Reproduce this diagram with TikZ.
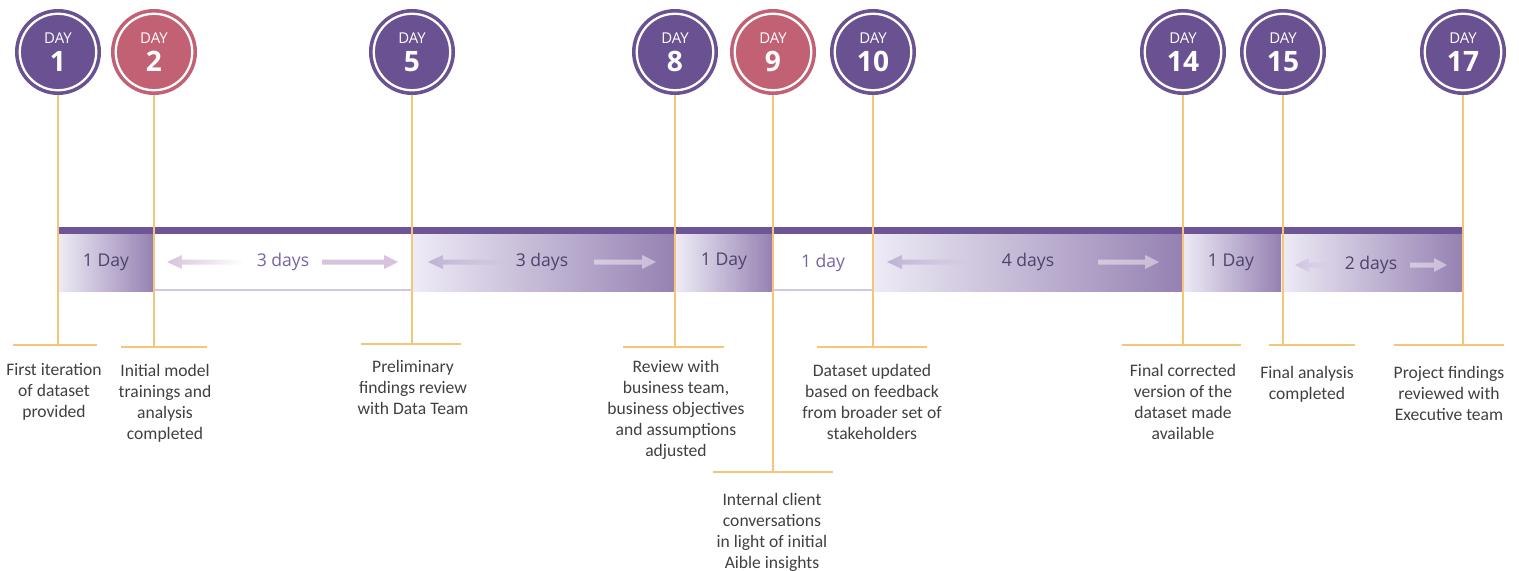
\documentclass[tikz,border=0pt]{standalone}
\usepackage{fontspec}
\setmainfont{Carlito}
\newfontfamily\opensans{Open Sans}
\usetikzlibrary{positioning,calc,fadings}

\definecolor{daypurple}{HTML}{6A5192}
\definecolor{daypink}{HTML}{C26174}
\definecolor{strippurple}{HTML}{6D5596}
\definecolor{bandlight}{HTML}{EEEBF6}
\definecolor{banddark}{HTML}{9581B2}
\definecolor{bandedge}{HTML}{D2C8E2}
\definecolor{leadorange}{HTML}{F5C679}
\definecolor{descgray}{HTML}{404040}
\definecolor{durdark}{HTML}{4F426B}
\definecolor{durpurple}{HTML}{7B62A3}
\definecolor{arrowpink}{HTML}{D8C3DF}
\definecolor{arrowgrey}{HTML}{BDB1D3}
\definecolor{arrowpale}{HTML}{CFC3E0}

\begin{document}
\begin{tikzpicture}[x=0.02cm, y=-0.02cm,
    every node/.style={inner sep=0pt},
    daycirc/.style={circle, fill=#1, minimum size=1.72cm, text=white, align=center,
      path picture={\draw[white, line width=1.3pt] (path picture bounding box.center) circle (0.765cm);}},
    lead/.style={line width=0.9pt, leadorange},
    desc/.style={align=center, anchor=north, text=descgray, font=\fontsize{10}{12}\selectfont},
    seg/.style={left color=bandlight, right color=banddark},
    durlbl/.style={font=\opensans\fontsize{10}{12}\selectfont, text=durdark},
    fadearrow/.style={fill=#1, path fading=east},
    solidarrow/.style={fill=white, opacity=0.45}
  ]
  \useasboundingbox (0,0) rectangle (1519,571);

  % Band
  \fill[strippurple] (58,227) rectangle (1463,234);
  \shade[seg] (58,234) rectangle (154,291);
  \fill[white] (154,234) rectangle (412,290);
  \draw[bandedge, line width=0.8pt] (154,290) -- (412,290);
  \shade[seg] (412,234) rectangle (676,291);
  \shade[seg] (676,234) rectangle (773,291);
  \fill[white] (773,234) rectangle (872,290);
  \draw[bandedge, line width=0.8pt] (773,290) -- (872,290);
  \shade[seg] (872,234) rectangle (1182,291);
  \shade[seg] (1182,234) rectangle (1281,291);
  \shade[seg] (1281,234) rectangle (1463,291);

  % Pfeile in den Abschnitten
  \fill[fadearrow=arrowpink] (167,262) -- ++(15,-7) -- ++(0,4.5) -- (243,259.5) -- ++(0,5) -- (182,264.5) -- ++(0,4.5) -- cycle;
  \fill[arrowpink] (398,262) -- ++(-14,-7) -- ++(0,4.5) -- (322,259.5) -- ++(0,5) -- (384,264.5) -- ++(0,4.5) -- cycle;
  \fill[fadearrow=arrowgrey] (428,262) -- ++(15,-7) -- ++(0,4.5) -- (507,259.5) -- ++(0,5) -- (443,264.5) -- ++(0,4.5) -- cycle;
  \fill[solidarrow] (656,262) -- ++(-14,-7) -- ++(0,4.5) -- (594,259.5) -- ++(0,5) -- (642,264.5) -- ++(0,4.5) -- cycle;
  \fill[fadearrow=arrowgrey] (887,262) -- ++(15,-7) -- ++(0,4.5) -- (965,259.5) -- ++(0,5) -- (902,264.5) -- ++(0,4.5) -- cycle;
  \fill[solidarrow] (1159,262) -- ++(-14,-7) -- ++(0,4.5) -- (1098,259.5) -- ++(0,5) -- (1145,264.5) -- ++(0,4.5) -- cycle;
  \fill[fadearrow=arrowpale] (1295,265) -- ++(14,-7) -- ++(0,4.5) -- (1328,262.5) -- ++(0,5) -- (1309,267.5) -- ++(0,4.5) -- cycle;
  \fill[solidarrow] (1447,265) -- ++(-13,-7) -- ++(0,4.5) -- (1410,262.5) -- ++(0,5) -- (1434,267.5) -- ++(0,4.5) -- cycle;

  % Dauer
  \node[durlbl] (l1) at (106,262) {1 Day};
  \node[durlbl, text=durpurple] (l2) at (283,262) {3 days};
  \node[durlbl] (l3) at (542,262) {3 days};
  \node[durlbl] (l4) at (724,261) {1 Day};
  \node[durlbl, text=durpurple] (l5) at (823,263) {1 day};
  \node[durlbl] (l6) at (1028,262) {4 days};
  \node[durlbl] (l7) at (1231,262) {1 Day};
  \node[durlbl] (l8) at (1371,265) {2 days};

  % Tage
  \foreach \d/\x/\c in {1/58/daypurple, 2/154/daypink, 5/412/daypurple, 8/675/daypurple,
      9/773/daypink, 10/873/daypurple, 14/1183/daypurple, 15/1283/daypurple, 17/1463/daypurple}
    \node[daycirc=\c] (d\d) at (\x,52)
      {{\opensans\fontsize{8.5}{9}\selectfont DAY}\\[4pt]{\opensans\bfseries\fontsize{16}{16}\selectfont \d}};

  % Fusspunkte der Linien
  \coordinate (k1) at (58,345);
  \coordinate (k2) at (154,347);
  \coordinate (k5) at (412,344);
  \coordinate (k8) at (675,347);
  \coordinate (k9) at (773,472);
  \coordinate (k10) at (873,347);
  \coordinate (k14) at (1183,345);
  \coordinate (k15) at (1283,345);
  \coordinate (k17) at (1463,345);

  \foreach \d/\l/\r in {1/13/97, 2/121/207, 5/361/461, 8/623/724, 9/713/833,
      10/817/927, 14/1122/1241, 15/1269/1355, 17/1394/1504} {
    \draw[lead] (d\d.south) -- (k\d);
    \draw[lead] (k\d -| \l,0) -- (k\d -| \r,0);
  }

  % Beschreibungen
  \node[desc] (t1) at (54,363) {First iteration\\of dataset\\provided};
  \node[desc] (t2) at (165,364) {Initial model\\trainings and\\analysis\\completed};
  \node[desc] (t5) at (413,360) {Preliminary\\findings review\\with Data Team};
  \node[desc] (t8) at (676,360) {Review with\\business team,\\business objectives\\and assumptions\\adjusted};
  \node[desc] (t9) at (772,493) {Internal client\\conversations\\in light of initial\\Aible insights};
  \node[desc] (t10) at (872,364) {Dataset updated\\based on feedback\\from broader set of\\stakeholders};
  \node[desc] (t14) at (1183,364) {Final corrected\\version of the\\dataset made\\available};
  \node[desc] (t15) at (1307,366) {Final analysis\\completed};
  \node[desc] (t17) at (1449,366) {Project findings\\reviewed with\\Executive team};
\end{tikzpicture}
\end{document}
